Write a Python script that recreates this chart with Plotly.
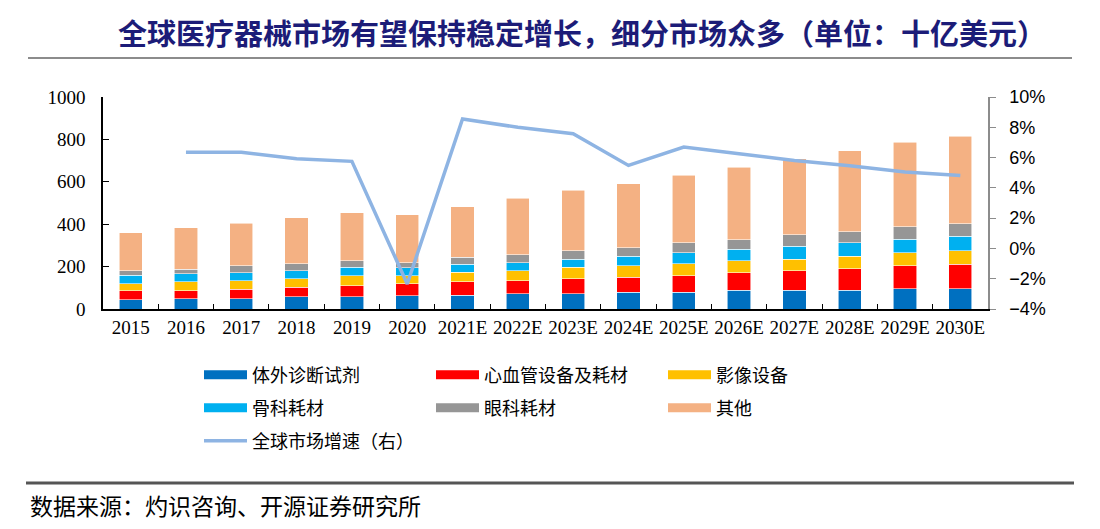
import plotly.graph_objects as go

years = ["2015", "2016", "2017", "2018", "2019", "2020", "2021E", "2022E", "2023E",
         "2024E", "2025E", "2026E", "2027E", "2028E", "2029E", "2030E"]

ivd = [43, 49, 49, 57, 57, 63, 65, 72, 72, 80, 80, 88, 88, 88, 96, 96]
cardio = [44, 38, 45, 45, 53, 55, 63, 62, 70, 70, 77, 84, 93, 101, 109, 115]
imaging = [33, 41, 39, 40, 47, 39, 45, 47, 55, 55, 56, 55, 54, 61, 61, 63]
ortho = [39, 39, 39, 39, 40, 38, 38, 38, 38, 45, 53, 54, 61, 62, 62, 69]
ophth = [22, 20, 32, 32, 30, 24, 32, 38, 39, 40, 46, 46, 55, 53, 61, 60]
others = [178, 196, 200, 217, 227, 225, 240, 266, 287, 302, 319, 341, 358, 381, 397, 413]
growth = [None, 6.35, 6.35, 5.92, 5.75, -2.35, 8.55, 8.0, 7.57, 5.48, 6.7, 6.25, 5.8, 5.46, 5.05, 4.82]

series = [
    ("体外诊断试剂", ivd, "#0070C0"),
    ("心血管设备及耗材", cardio, "#FF0000"),
    ("影像设备", imaging, "#FFC000"),
    ("骨科耗材", ortho, "#00B0F0"),
    ("眼科耗材", ophth, "#969696"),
    ("其他", others, "#F4B183"),
]
line_name = "全球市场增速（右）"
line_color = "#8EB4E3"

# page body adds an 8px offset; work in screen pixels and convert
OFF = 8
W, H = 1100, 529
L, R, T, B = 103 - OFF, 988 - OFF, 97 - OFF, 309 - OFF


def px_x(p):
    return (p - OFF - L) / (R - L)


def px_y(p):
    return (B - (p - OFF)) / (B - T)


fig = go.Figure()
for name, vals, col in series:
    fig.add_trace(go.Bar(x=years, y=vals, name=name, marker_color=col,
                         marker_line=dict(color="rgba(255,255,255,0.7)", width=0.8),
                         showlegend=False))

fig.add_trace(go.Scatter(x=years, y=growth, yaxis="y2", mode="lines", name=line_name,
                         line=dict(color=line_color, width=3.5), showlegend=False,
                         connectgaps=False))

legend_ids = ["legend", "legend", "legend", "legend2", "legend2", "legend2"]
for (name, vals, col), lg in zip(series, legend_ids):
    fig.add_trace(go.Scatter(x=[None], y=[None], mode="lines", name=name,
                             line=dict(color=col, width=9), legend=lg, showlegend=True))
fig.add_trace(go.Scatter(x=[None], y=[None], mode="lines", name=line_name,
                         line=dict(color=line_color, width=3.5), legend="legend3",
                         showlegend=True, yaxis="y2"))

leg_common = dict(orientation="h", xanchor="left", yanchor="middle",
                  entrywidth=174, entrywidthmode="pixels", itemwidth=43,
                  font=dict(family="Noto Sans CJK SC", size=18, color="#000000"),
                  bgcolor="rgba(0,0,0,0)", traceorder="normal", tracegroupgap=0)

LEGX = px_x(199)

fig.update_layout(
    width=W, height=H,
    margin=dict(l=L, r=W - R, t=T, b=H - B, pad=0),
    paper_bgcolor="white", plot_bgcolor="white",
    barmode="stack", bargap=0.58,
    title=dict(text="<b>全球医疗器械市场有望保持稳定增长，细分市场众多（单位：十亿美元）</b>",
               x=574 / W, xanchor="center", y=1 - (35 - OFF) / H, yanchor="middle",
               font=dict(family="Noto Sans CJK SC", size=29, color="#1C1C78")),
    xaxis=dict(type="category", showline=True, linecolor="#000000", linewidth=1.5,
               ticks="inside", tickson="boundaries", ticklen=5, tickcolor="#000000",
               tickangle=0,
               tickfont=dict(family="Liberation Serif", size=19, color="#000000"),
               showgrid=False, zeroline=False),
    yaxis=dict(range=[0, 1000], dtick=200, showline=True, linecolor="#000000", linewidth=1.5,
               ticks="inside", ticklen=6, tickcolor="#000000", ticklabelstandoff=12,
               tickfont=dict(family="Liberation Serif", size=19, color="#000000"),
               showgrid=False, zeroline=False),
    yaxis2=dict(range=[-4, 10], dtick=2, overlaying="y", side="right", showline=True,
                linecolor="#8C8C8C", linewidth=1.5, ticks="outside", ticklen=6,
                tickcolor="#8C8C8C", ticksuffix="%", ticklabelstandoff=10,
                tickfont=dict(family="Liberation Sans", size=18, color="#000000"),
                showgrid=False, zeroline=False),
    legend=dict(x=LEGX, y=px_y(375), **leg_common),
    legend2=dict(x=LEGX, y=px_y(408), **leg_common),
    legend3=dict(x=LEGX, y=px_y(441), **leg_common),
    shapes=[
        dict(type="line", xref="paper", yref="paper", x0=px_x(28), x1=px_x(1072),
             y0=px_y(58), y1=px_y(58), line=dict(color="#8C8C8C", width=2)),
        dict(type="line", xref="paper", yref="paper", x0=px_x(26), x1=px_x(1074),
             y0=px_y(483), y1=px_y(483), line=dict(color="#555555", width=3)),
    ],
    annotations=[
        dict(text="数据来源：灼识咨询、开源证券研究所", xref="paper", yref="paper",
             x=px_x(28), y=px_y(505), xanchor="left", yanchor="middle", showarrow=False,
             font=dict(family="Noto Sans CJK SC", size=23, color="#000000")),
    ],
)

fig.write_html("out.html")
